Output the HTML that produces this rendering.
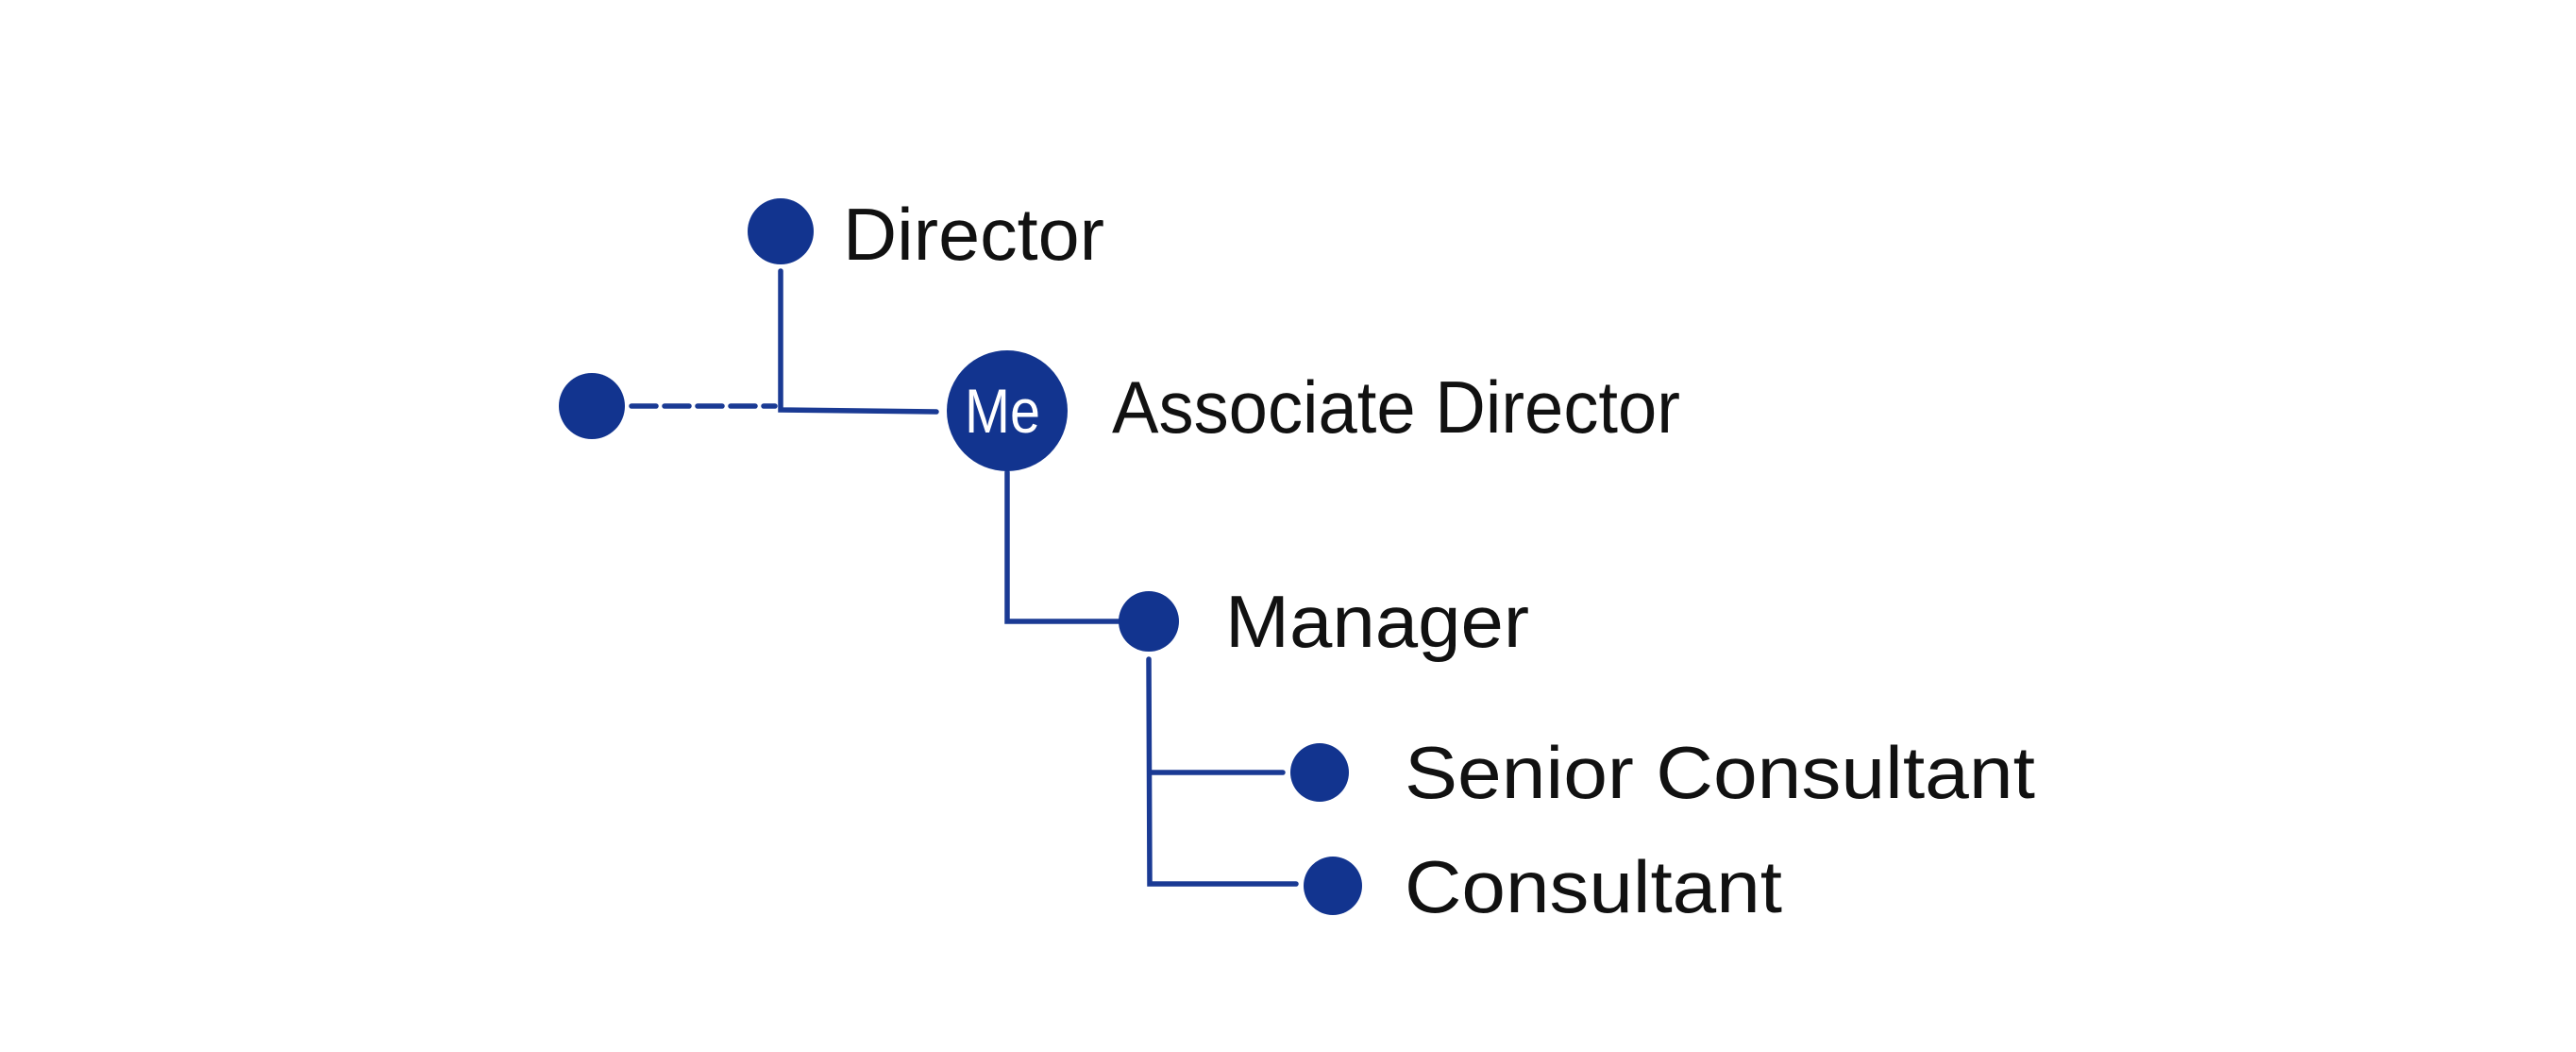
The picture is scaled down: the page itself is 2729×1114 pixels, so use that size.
<!DOCTYPE html>
<html><head><meta charset="utf-8"><style>
html,body{margin:0;padding:0;background:#fff;}
svg{display:block}
text{font-family:"Liberation Sans",sans-serif;fill:#111;}
</style></head><body>
<svg width="2729" height="1114" viewBox="0 0 2729 1114" xmlns="http://www.w3.org/2000/svg">
<g stroke="#1a3a94" stroke-width="5.5" fill="none" stroke-linecap="round">
<path d="M827 287 L827 434 L992 436"/>
<path d="M669 430 L821 430" stroke-dasharray="26 9"/>
<path d="M1067 500 L1067 658 L1189 658"/>
<path d="M1217 698 L1218 936 L1373 936"/>
<path d="M1218 818 L1359 818"/>
</g>
<g fill="#12348f">
<circle cx="827" cy="245" r="35"/>
<circle cx="627" cy="430" r="35"/>
<circle cx="1067" cy="435" r="64"/>
<circle cx="1217" cy="658" r="32"/>
<circle cx="1398" cy="818" r="31"/>
<circle cx="1412" cy="938" r="31"/>
</g>
<text x="1022" y="458" font-size="66" textLength="80" lengthAdjust="spacingAndGlyphs" style="fill:#fff">Me</text>
<text x="893" y="275" font-size="78" textLength="277" lengthAdjust="spacingAndGlyphs">Director</text>
<text x="1178" y="458" font-size="78" textLength="602" lengthAdjust="spacingAndGlyphs">Associate Director</text>
<text x="1298" y="685" font-size="78" textLength="322" lengthAdjust="spacingAndGlyphs">Manager</text>
<text x="1488" y="845" font-size="78" textLength="668" lengthAdjust="spacingAndGlyphs">Senior Consultant</text>
<text x="1488" y="966" font-size="78" textLength="400" lengthAdjust="spacingAndGlyphs">Consultant</text>
</svg>
</body></html>
